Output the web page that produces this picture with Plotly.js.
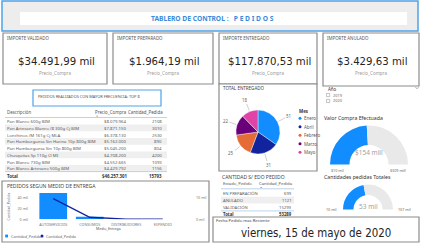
<!DOCTYPE html>
<html><head><meta charset="utf-8">
<script src="https://cdn.plot.ly/plotly-3.0.1.min.js"></script>
<style>html,body{margin:0;padding:0;background:#fff;overflow:hidden}</style>
</head><body><div id="chart" style="width:421px;height:244px"></div>
<script>
// ================= DATA =================
const dashTitle = 'TABLERO DE CONTROL :   P E D I D O S';
const kpiTitles = ['IMPORTE VALIDADO', 'IMPORTE PREPARADO', 'IMPORTE ENTREGADO', 'IMPORTE ANULADO'];
const kpiValues = ['$34.491,99 mil', '$1.964,19 mil', '$117.870,53 mil', '$3.429,63 mil'];
const kpiSubtitle = 'Precio_Compra';

const topTitle = 'PEDIDOS REALIZADOS CON MAYOR FRECUENCIA: TOP 8';
const topHeaders = ['Descripción', 'Precio_Compra', 'Cantidad_Pedida'];
const topDesc = ['Pan Blanco 600g BIM', 'Pan Artesano Blanco /8 300g Cj BIM', 'Lonchinos /M 161g Cj MLA',
  'Pan Hamburguesa Sin Harina 10p 800g BIM', 'Pan Hamburguesa Sin 10p 800g BIM', 'Chusquitas Sp 110g Cl MI',
  'Pan Blanco 730g BIM', 'Pan Blanco Artesano 500g BIM'];
const topPrecio = ['$8.079.964', '$7.871.150', '$6.378.130', '$5.162.000', '$5.045.200', '$4.708.200', '$4.552.665', '$4.429.792'];
const topCantidad = [2108, 3010, 2530, 890, 804, 4200, 1093, 1156];
const topTotal = ['Total', '$46.257.301', '15793'];

const pieTitle = 'TOTAL ENTREGADO';
const pieLegendTitle = 'Mes';
const meses = ['Enero', 'Abril', 'Febrero', 'Marzo', 'Mayo'];
const entregados = [51, 31, 25, 22, 18];

const yearTitle = 'Año';
const years = ['2019', '2020'];

const barTitle = 'PEDIDOS SEGUN MEDIO DE ENTREGA';
const medios = ['AUTOSERVICIOS', 'CONSUMOS', 'DISTRIBUIDORES', 'EXPENDIO'];
const cantidadBar = [48000, 4700, 400, 250];
const cantidadLine = [9400, 900, 100, 60];
const leftTickVals = [0, 20000, 40000];
const leftTickText = ['0 mil', '20 mil', '40 mil'];
const rightTickVals = [0, 10000];
const rightTickText = ['0 mil', '10 mil'];
const xAxisTitle = 'Medio_Entrega';
const yAxisTitle = 'Cantidad_Pedida';
const legendNames = ['Cantidad_Pedida', 'Cantidad_Pedida'];

const estadoTitle = 'CANTIDAD S/ EDO PEDIDO';
const estadoHeaders = ['Estado_Pedido', 'Cantidad_Pedida'];
const estados = ['EN PREPARACIÓN', 'ANULADO', 'VALIDACIÓN'];
const estadoCant = [699, 1121, 15299];
const estadoTotal = ['Total', '53289'];

const gaugeTitles = ['Valor Compra Efectuada', 'Cantidades pedidas Totales'];
const gaugeValues = [154, 53];
const gaugeMins = [10, 10];
const gaugeMaxs = [309, 107];
const gaugeValueText = ['$154 mill', '53 mil'];
const gaugeMinText = ['$10 mil', '10 mil'];
const gaugeMaxText = ['$309 mill', '107 mil'];

const fechaTitle = 'Fecha Pedido mas Reciente';
const fechaReciente = 'viernes, 15 de mayo de 2020';

// ================= STYLE / LAYOUT =================
const W = 421, H = 244;
const F = 'Noto Sans, Open Sans, sans-serif';
const FN = 'Liberation Sans Narrow, DejaVu Sans Condensed, Roboto, sans-serif';
const BLUE = '#118DFF', NAVY = '#12239E';
const mesColors = ['#118DFF', '#12239E', '#E66C37', '#6B007B', '#E044A7'];
const X = x => x / W, Y = y => 1 - y / H;
const shapes = [], ann = [];
function rect(x0, y0, x1, y1, line, lw, fill, layer) {
  shapes.push({type: 'rect', xref: 'paper', yref: 'paper', x0: X(x0), x1: X(x1), y0: Y(y0), y1: Y(y1),
    line: {color: line || 'rgba(0,0,0,0)', width: lw || 0}, fillcolor: fill || 'rgba(0,0,0,0)', layer: layer || 'below'});
}
function hline(x0, x1, y, color, w) {
  shapes.push({type: 'line', xref: 'paper', yref: 'paper', x0: X(x0), x1: X(x1), y0: Y(y), y1: Y(y),
    line: {color: color, width: w}, layer: 'below'});
}
function circ(cx, cy, r, color) {
  shapes.push({type: 'circle', xref: 'paper', yref: 'paper', x0: X(cx - r), x1: X(cx + r), y0: Y(cy + r), y1: Y(cy - r),
    line: {width: 0}, fillcolor: color, layer: 'above'});
}
function txt(text, x, y, size, color, anchor, extra, fam) {
  ann.push(Object.assign({text: text, x: X(x), y: Y(y), xref: 'paper', yref: 'paper', showarrow: false,
    xanchor: anchor || 'left', yanchor: 'middle', borderpad: 0,
    font: {family: fam || F, size: size, color: color}}, extra || {}));
}

// header
rect(2, 1, 418, 31, '#4DA3E8', 1.5, '#EDEDED');
rect(20, 12, 407, 25, null, 0, '#FFFFFF');
txt('<b>' + dashTitle + '</b>', 212, 18.5, 6.7, '#3B8AD9', 'center');

// KPI cards
const cardBoxes = [[3, 33, 107, 84], [113, 33, 213, 84], [219, 33, 317, 84], [323, 33, 419, 86]];
cardBoxes.forEach((b, i) => {
  rect(b[0], b[1], b[2], b[3], '#8C8C8C', 1.2, '#FFFFFF');
  txt(kpiTitles[i], b[0] + 3, 38, 4.4, '#555', 'left');
  txt(kpiValues[i], (b[0] + b[2]) / 2 + 1, 61.5, 11.3, '#252423', 'center', null, FN);
  txt(kpiSubtitle, (b[0] + b[2]) / 2, 73.3, 4.5, '#9A9A9A', 'center');
});

// TOP 8 table
rect(33, 90, 161, 106, '#4DA3E8', 1.2, '#FFFFFF');
txt(topTitle, 37, 96.5, 3.9, '#555', 'left');
const tY0 = 121, tStep = 6.76;
topDesc.forEach((d, i) => { if (i % 2 === 1) rect(5, tY0 + i * tStep - tStep / 2, 167, tY0 + i * tStep + tStep / 2, null, 0, '#EFEFEF'); });
hline(5, 167, 117.5, '#A9C9E6', 0.8);
hline(5, 167, 171.6, '#A9C9E6', 0.8);
txt(topHeaders[0], 6, 111.5, 4.4, '#555', 'left');
txt(topHeaders[1], 128, 111.5, 4.4, '#555', 'right');
txt(topHeaders[2], 163.5, 111.5, 4.4, '#555', 'right');
txt('▼', 97, 116.3, 2.2, '#444', 'center');
topDesc.forEach((d, i) => {
  const y = tY0 + i * tStep;
  txt(d, 6, y, 4.3, '#606060', 'left');
  txt(topPrecio[i], 127.5, y, 4.3, '#606060', 'right');
  txt(String(topCantidad[i]), 163, y, 4.3, '#606060', 'right');
});
txt('<b>' + topTotal[0] + '</b>', 6, 175.7, 4.4, '#333', 'left');
txt('<b>' + topTotal[1] + '</b>', 127.5, 175.7, 4.4, '#333', 'right');
txt('<b>' + topTotal[2] + '</b>', 163, 175.7, 4.4, '#333', 'right');

// pie box
rect(219, 84, 317, 171, '#8C8C8C', 1.2, '#FFFFFF');
txt(pieTitle, 222, 88.5, 4.5, '#444', 'left');
const pieC = [258, 132], pieR = 22;
txt('<b>' + pieLegendTitle + '</b>', 297.5, 110.7, 4.4, '#333', 'left');
meses.forEach((m, i) => {
  const y = 118.3 + i * 8.5;
  circ(300, y, 1.5, mesColors[i]);
  txt(m, 302.6, y, 4.4, '#555', 'left');
});
// pie value labels with leader lines (angles derived from values)
(function () {
  const tot = entregados.reduce((a, b) => a + b, 0);
  let cum = 0;
  entregados.forEach((v, i) => {
    const th = (cum + v / 2) / tot * 2 * Math.PI; cum += v;
    const sx = Math.sin(th), sy = -Math.cos(th);
    const tipX = pieC[0] + pieR * 1.05 * sx, tipY = pieC[1] + pieR * 1.05 * sy;
    ann.push({text: String(v), x: X(tipX), y: Y(tipY), xref: 'paper', yref: 'paper', showarrow: true,
      arrowhead: 0, arrowwidth: 0.5, arrowcolor: '#A0A0A0', standoff: 0, startstandoff: 0,
      ax: pieR * 0.5 * sx, ay: pieR * 0.5 * sy, borderpad: 0,
      font: {family: F, size: 4.4, color: '#666'}});
  });
})();

// Año slicer
txt(yearTitle, 326.5, 89, 4.4, '#333', 'left');
shapes.push({type: 'path', xref: 'paper', yref: 'paper',
  path: 'M ' + X(415.5) + ' ' + Y(87.2) + ' L ' + X(417) + ' ' + Y(88.7) + ' L ' + X(418.5) + ' ' + Y(87.2),
  line: {color: '#666', width: 0.6}});
years.forEach((yr, i) => {
  const y = 95 + i * 6;
  rect(326.5, y - 1.6, 329.7, y + 1.6, '#888', 0.5, '#FFFFFF', 'above');
  txt(yr, 331.5, y, 3.9, '#666', 'left');
});

// bar chart box
rect(2, 181, 209, 242, '#8C8C8C', 1.2, '#FFFFFF');
txt(barTitle, 6, 185.7, 5, '#444', 'left');
txt(yAxisTitle, 7.5, 207, 3.5, '#777', 'center', {textangle: -90});
txt(xAxisTitle, 108, 228.6, 3.5, '#555', 'center');
rect(5.2, 234.6, 8, 237.4, null, 0, BLUE, 'above');
txt(legendNames[0], 9.5, 236, 3.8, '#666', 'left');
circ(42, 236, 1.5, NAVY);
txt(legendNames[1], 44.5, 236, 3.8, '#666', 'left');

// estado table
txt(estadoTitle, 220.5, 176.6, 5, '#444', 'left');
const eY0 = 193.3, eStep = 6.85;
estados.forEach((e, i) => { if (i % 2 === 1) rect(221, eY0 + i * eStep - eStep / 2, 294, eY0 + i * eStep + eStep / 2, null, 0, '#EFEFEF'); });
hline(221, 294, 188.8, '#A9C9E6', 0.8);
hline(221, 294, 210.9, '#A9C9E6', 0.8);
txt(estadoHeaders[0], 222, 183.2, 4.2, '#555', 'left');
txt(estadoHeaders[1], 293.5, 183.2, 4.2, '#555', 'right');
txt('▲', 261, 187.2, 2.2, '#444', 'center');
estados.forEach((e, i) => {
  const y = eY0 + i * eStep;
  txt(e, 222, y, 4.2, '#606060', 'left');
  txt(String(estadoCant[i]), 293, y, 4.2, '#606060', 'right');
});
txt('<b>' + estadoTotal[0] + '</b>', 222, 214.3, 4.3, '#333', 'left');
txt('<b>' + estadoTotal[1] + '</b>', 293, 214.3, 4.3, '#333', 'right');

// gauges
const gaugeBoxes = [{cx: 369, cy: 164.5, r: 39, hole: 0.5, titleY: 118.5, valY: 152.5, endY: 170.6, minX: 337, maxX: 397.5},
                    {cx: 368, cy: 209.5, r: 25, hole: 0.58, titleY: 177, valY: 206.5, endY: 209.5, minX: 331.5, maxX: 404}];
const traces = [];
gaugeBoxes.forEach((g, i) => {
  txt(gaugeTitles[i], 323, g.titleY, 5.2, '#333', 'left');
  traces.push({type: 'pie', values: [gaugeValues[i] - gaugeMins[i], gaugeMaxs[i] - gaugeValues[i], gaugeMaxs[i] - gaugeMins[i]],
    marker: {colors: [BLUE, '#E9E9E9', 'rgba(0,0,0,0)']}, sort: false, direction: 'clockwise', rotation: -90,
    hole: g.hole, textinfo: 'none', hoverinfo: 'skip', showlegend: false,
    domain: {x: [X(g.cx - g.r), X(g.cx + g.r)], y: [Y(g.cy + g.r), Y(g.cy - g.r)]}});
  txt(gaugeValueText[i], g.cx, g.valY, 6.5, '#A0A0A0', 'center');
  txt(gaugeMinText[i], g.minX, g.endY, 3.7, '#666', 'center');
  txt(gaugeMaxText[i], g.maxX, g.endY, 3.7, '#666', 'center');
});

// date card
rect(213, 217, 419, 242, '#8C8C8C', 1.2, '#FFFFFF');
txt(fechaTitle, 215, 220.8, 4.2, '#444', 'left');
txt(fechaReciente, 316, 232.5, 11.4, '#252423', 'center', null, FN);

// main pie
traces.push({type: 'pie', labels: meses, values: entregados, marker: {colors: mesColors, line: {color: '#fff', width: 0.4}},
  sort: false, direction: 'clockwise', rotation: 0, textinfo: 'none', hoverinfo: 'label+value', showlegend: false,
  domain: {x: [X(pieC[0] - pieR), X(pieC[0] + pieR)], y: [Y(pieC[1] + pieR), Y(pieC[1] - pieR)]}});

// bar + line
traces.push({type: 'bar', x: medios, y: cantidadBar, name: legendNames[0], marker: {color: BLUE},
  xaxis: 'x', yaxis: 'y', showlegend: false});
traces.push({type: 'scatter', mode: 'lines', x: medios, y: cantidadLine, name: legendNames[1],
  line: {color: NAVY, width: 1.4}, xaxis: 'x', yaxis: 'y2', showlegend: false});

const layout = {
  width: W, height: H, margin: {l: 0, r: 0, t: 0, b: 0}, autosize: false,
  paper_bgcolor: '#FFFFFF', plot_bgcolor: 'rgba(0,0,0,0)', showlegend: false, bargap: 0.24,
  font: {family: F},
  xaxis: {domain: [X(35), X(181)], range: [-0.5, 3.5], showgrid: false, zeroline: false, showline: false, ticks: '',
    tickfont: {size: 3.7, color: '#777', family: F}, ticklabelstandoff: 2, fixedrange: true, anchor: 'y'},
  yaxis: {domain: [Y(219.3), Y(190.7)], range: [0, 52000], tickvals: leftTickVals, ticktext: leftTickText,
    showgrid: false, zeroline: false, showline: false, ticks: '', tickfont: {size: 3.7, color: '#777', family: F},
    ticklabelstandoff: 6, fixedrange: true},
  yaxis2: {overlaying: 'y', side: 'right', range: [0, 13000], tickvals: rightTickVals, ticktext: rightTickText,
    showgrid: false, zeroline: false, showline: false, ticks: '', tickfont: {size: 3.7, color: '#777', family: F},
    ticklabelstandoff: 14, fixedrange: true, anchor: 'x'},
  shapes: shapes, annotations: ann
};
Plotly.newPlot('chart', traces, layout, {staticPlot: true, displayModeBar: false});
</script></body></html>
